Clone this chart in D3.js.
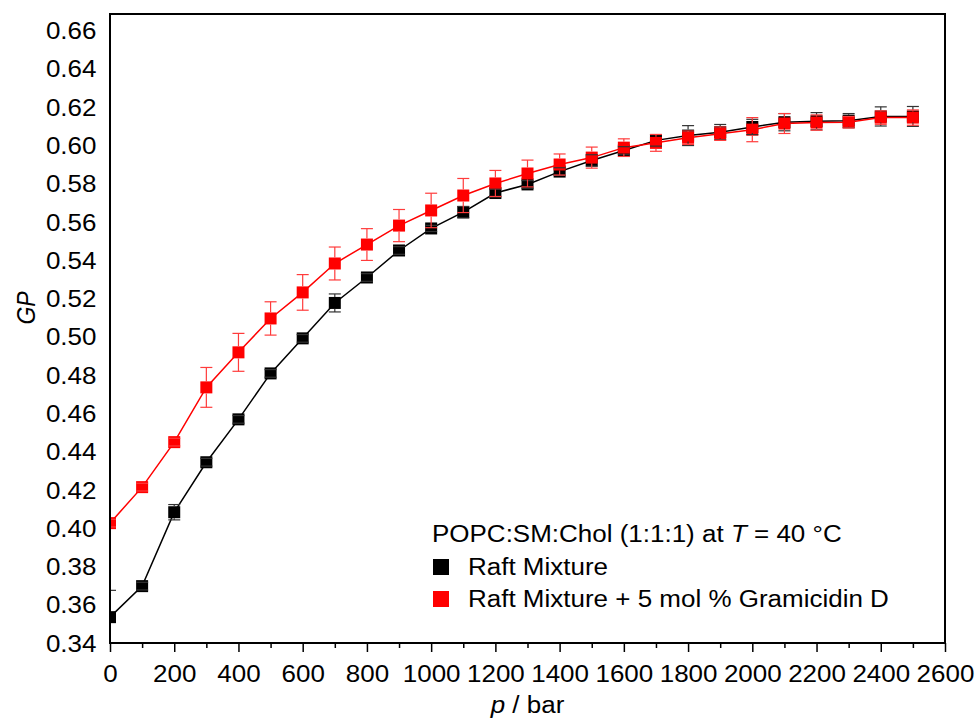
<!DOCTYPE html>
<html>
<head>
<meta charset="utf-8">
<script src="https://cdn.jsdelivr.net/npm/d3@7"></script>
<style>
  body { margin: 0; background: #fff; }
  svg { display: block; }
</style>
</head>
<body>
<div id="chart"></div>
<script>
// pressure in bar
const pressure = [0, 100, 200, 300, 400, 500, 600, 700, 800, 900, 1000, 1100, 1200,
  1300, 1400, 1500, 1600, 1700, 1800, 1900, 2000, 2100, 2200, 2300, 2400, 2500];

// GP values, raft mixture
const gpRaft = [0.3535, 0.3697, 0.4083, 0.4344, 0.4568, 0.4808, 0.4991, 0.5176, 0.5309,
  0.5450, 0.5565, 0.5650, 0.5750, 0.5795, 0.5862, 0.5920, 0.5972, 0.6025, 0.6050,
  0.6068, 0.6095, 0.6120, 0.6125, 0.6128, 0.6150, 0.6150];
const errRaft = [0.0140, 0.0020, 0.0040, 0.0020, 0.0020, 0.0020, 0.0020, 0.0047, 0.0020,
  0.0020, 0.0016, 0.0030, 0.0020, 0.0020, 0.0020, 0.0030, 0.0020, 0.0030, 0.0052,
  0.0040, 0.0040, 0.0045, 0.0045, 0.0037, 0.0050, 0.0052];

// GP values, raft mixture + 5 mol % gramicidin D
const gpGramicidin = [0.4026, 0.4214, 0.4449, 0.4735, 0.4918, 0.5095, 0.5231, 0.5382,
  0.5481, 0.5580, 0.5659, 0.5737, 0.5800, 0.5852, 0.5899, 0.5935, 0.5987, 0.6012,
  0.6039, 0.6060, 0.6081, 0.6113, 0.6118, 0.6120, 0.6144, 0.6144];
const errGramicidin = [0.0020, 0.0020, 0.0020, 0.0104, 0.0099, 0.0087, 0.0093, 0.0086,
  0.0083, 0.0084, 0.0090, 0.0089, 0.0068, 0.0070, 0.0055, 0.0055, 0.0046, 0.0044,
  0.0035, 0.0035, 0.0063, 0.0052, 0.0040, 0.0030, 0.0035, 0.0040];

// axis ticks
const xTicks = [0, 200, 400, 600, 800, 1000, 1200, 1400, 1600, 1800, 2000, 2200, 2400, 2600];
const xMinorTicks = [100, 300, 500, 700, 900, 1100, 1300, 1500, 1700, 1900, 2100, 2300, 2500];
const yTicks = [0.34, 0.36, 0.38, 0.40, 0.42, 0.44, 0.46, 0.48, 0.50, 0.52, 0.54, 0.56,
  0.58, 0.60, 0.62, 0.64, 0.66];

const seriesNames = ["Raft Mixture", "Raft Mixture + 5 mol % Gramicidin D"];

const width = 979, height = 722;
const margin = { top: 14, right: 34, bottom: 79, left: 110 };
const font = "'Liberation Sans', Arial, sans-serif";
const fontSize = 23;
const stretch = "scale(1.13,1)"; // the original image is a bit wider than tall

const svg = d3.select("#chart").append("svg")
  .attr("width", width)
  .attr("height", height)
  .style("background", "#fff");

const x = d3.scaleLinear().domain([0, 2600]).range([margin.left, width - margin.right]);
const y = d3.scaleLinear().domain([0.34, 0.6685]).range([height - margin.bottom, margin.top]);

// clip to plot area
svg.append("clipPath").attr("id", "plot-clip")
  .append("rect")
  .attr("x", margin.left).attr("y", margin.top)
  .attr("width", x(2600) - x(0)).attr("height", y.range()[0] - y.range()[1]);

// series
const series = [
  { name: seriesNames[0], values: gpRaft, errors: errRaft, color: "#000", errColor: "#333" },
  { name: seriesNames[1], values: gpGramicidin, errors: errGramicidin, color: "#ff0000", errColor: "#ff3b3b" }
];

const plot = svg.append("g").attr("clip-path", "url(#plot-clip)");
const line = d3.line().x((d, i) => x(pressure[i])).y(d => y(d));
const sq = 12;

series.forEach(s => {
  plot.append("path")
    .datum(s.values)
    .attr("fill", "none")
    .attr("stroke", s.color)
    .attr("stroke-width", 1.5)
    .attr("d", line);

  plot.append("g").selectAll("rect")
    .data(s.values)
    .join("rect")
    .attr("x", (d, i) => x(pressure[i]) - sq / 2)
    .attr("y", d => y(d) - sq / 2)
    .attr("width", sq)
    .attr("height", sq)
    .attr("fill", s.color);
});

// error bars on top of the symbols
series.forEach(s => {
  const g = plot.append("g")
    .attr("stroke", s.errColor)
    .attr("stroke-width", 1.2);
  s.values.forEach((v, i) => {
    const cx = x(pressure[i]);
    const top = y(v + s.errors[i]), bot = y(v - s.errors[i]);
    const yc = y(v);
    if (yc - sq / 2 > top) {
      g.append("line").attr("x1", cx).attr("x2", cx).attr("y1", top).attr("y2", yc - sq / 2);
      g.append("line").attr("x1", cx).attr("x2", cx).attr("y1", yc + sq / 2).attr("y2", bot);
    }
    g.append("line").attr("x1", cx - 6).attr("x2", cx + 6).attr("y1", top).attr("y2", top);
    g.append("line").attr("x1", cx - 6).attr("x2", cx + 6).attr("y1", bot).attr("y2", bot);
  });
});

// axes
const xAxis = svg.append("g")
  .attr("transform", `translate(0,${y.range()[0]})`)
  .call(d3.axisBottom(x).tickValues(xTicks).tickFormat(d3.format("d"))
    .tickSize(9).tickPadding(14).tickSizeOuter(0));
svg.append("g")
  .attr("transform", `translate(0,${y.range()[0]})`)
  .call(d3.axisBottom(x).tickValues(xMinorTicks).tickSize(5).tickFormat("").tickSizeOuter(0))
  .call(g => g.select(".domain").remove())
  .selectAll("line").attr("stroke-width", 1.5);

xAxis.select(".domain").remove();
xAxis.selectAll("line").attr("stroke-width", 1.5);
xAxis.selectAll("text")
  .attr("font-size", fontSize)
  .attr("font-family", font)
  .attr("fill", "#000")
  .attr("transform", stretch);

const yAxis = svg.append("g")
  .attr("transform", `translate(${margin.left},0)`)
  .call(d3.axisLeft(y).tickValues(yTicks).tickFormat(d3.format(".2f")).tickSize(0).tickPadding(12));
yAxis.select(".domain").remove();
yAxis.selectAll("text")
  .attr("font-size", fontSize)
  .attr("font-family", font)
  .attr("fill", "#000")
  .attr("dy", "0.36em")
  .attr("transform", stretch);

// frame
svg.append("rect")
  .attr("x", margin.left).attr("y", margin.top)
  .attr("width", x(2600) - x(0)).attr("height", y.range()[0] - y.range()[1])
  .attr("fill", "none")
  .attr("stroke", "#000")
  .attr("stroke-width", 2);

// axis titles
const xTitle = svg.append("text")
  .attr("transform", `translate(${(x(0) + x(2600)) / 2},713) ${stretch}`)
  .attr("text-anchor", "middle")
  .attr("font-size", fontSize)
  .attr("font-family", font);
xTitle.append("tspan").attr("font-style", "italic").text("p");
xTitle.append("tspan").text(" / bar");

svg.append("text")
  .attr("transform", `translate(35,308) ${stretch} rotate(-90)`)
  .attr("text-anchor", "middle")
  .attr("font-size", fontSize)
  .attr("font-family", font)
  .attr("font-style", "italic")
  .text("GP");

// legend
const legend = svg.append("g").attr("font-size", fontSize).attr("font-family", font);
const legendTitle = legend.append("text")
  .attr("transform", `translate(432,542) ${stretch}`);
legendTitle.append("tspan").text("POPC:SM:Chol (1:1:1) at ");
legendTitle.append("tspan").attr("font-style", "italic").text("T");
legendTitle.append("tspan").text(" = 40 °C");

series.forEach((s, i) => {
  const by = 575 + i * 32;
  legend.append("rect")
    .attr("x", 433).attr("y", by - 16)
    .attr("width", 16).attr("height", 16)
    .attr("fill", s.color);
  legend.append("text")
    .attr("transform", `translate(468,${by}) ${stretch}`)
    .text(s.name);
});
</script>
</body>
</html>
